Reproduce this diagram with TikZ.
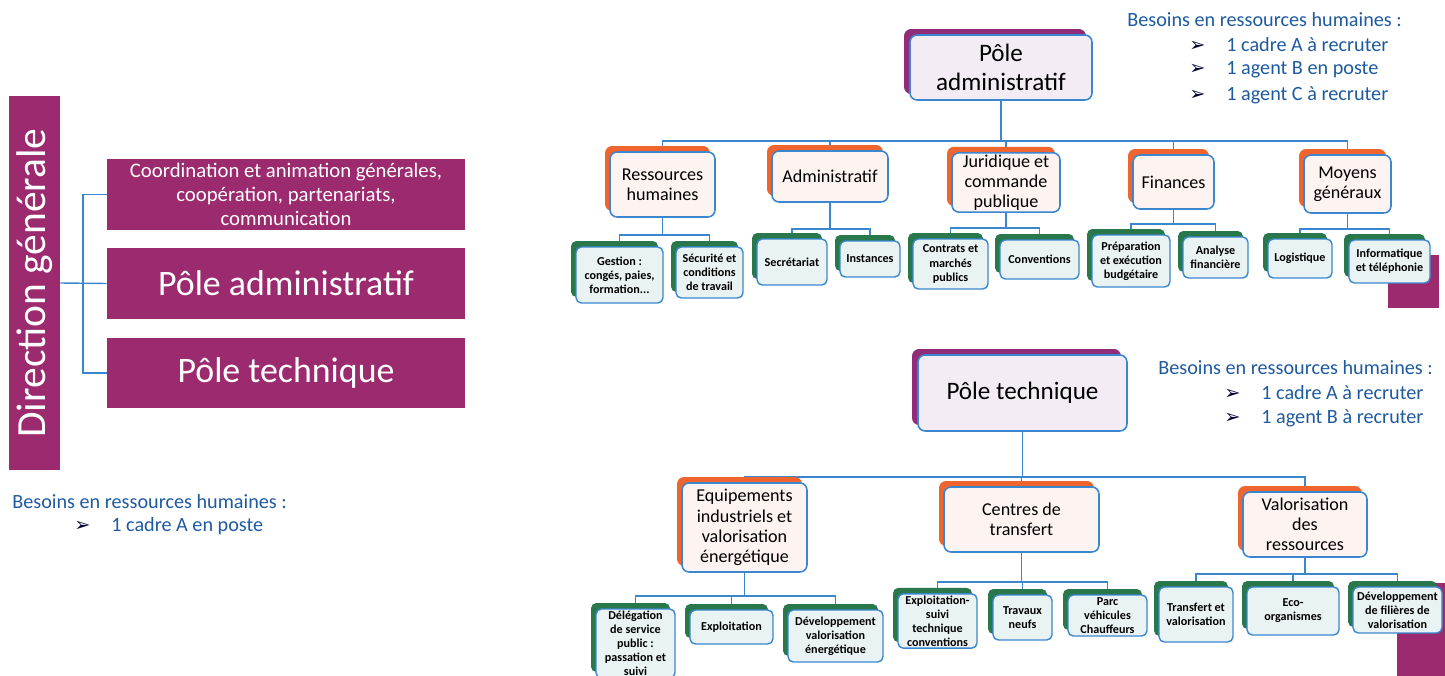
\documentclass[tikz,border=0pt]{standalone}
\usepackage{fontspec}
\setmainfont{Carlito}
\newfontfamily\symfont{DejaVu Sans}
\usepackage{tikz}
\usetikzlibrary{shadows, backgrounds, positioning}
\definecolor{Plum}{RGB}{155, 42, 110}
\definecolor{PlumShade}{RGB}{145, 45, 120}
\definecolor{LinkBlue}{RGB}{58, 135, 207}
\definecolor{Flame}{RGB}{240, 100, 45}
\definecolor{Forest}{RGB}{40, 120, 75}
\definecolor{PoleFill}{RGB}{243, 236, 245}
\definecolor{ServFill}{RGB}{253, 243, 240}
\definecolor{UnitFill}{RGB}{234, 243, 243}
\definecolor{NeedBlue}{RGB}{30, 90, 160}
\newcommand{\needarrow}{\makebox[0.74cm][l]{\color{black!80!blue}\symfont\fontsize{11}{11}\selectfont ➢}}

\begin{document}
\begin{tikzpicture}[x=0.02cm, y=-0.02cm,
            link/.style={draw=LinkBlue, line width=0.8pt},
            dgbox/.style={fill=Plum, text=white, inner sep=0pt, align=center},
            pole/.style={draw=LinkBlue, line width=0.9pt, fill=PoleFill, rounded corners=4pt, align=center,
                general shadow={fill=PlumShade, shadow xshift=-0.12cm, shadow yshift=0.12cm},
                font=\fontsize{14.3}{16.4}\selectfont},
            service/.style={draw=LinkBlue, line width=0.9pt, fill=ServFill, rounded corners=4pt, align=center, inner sep=1pt,
                general shadow={fill=Flame, shadow xshift=-0.1cm, shadow yshift=0.12cm},
                font=\fontsize{10.3}{11.5}\selectfont},
            unit/.style={draw=LinkBlue, line width=0.8pt, fill=UnitFill, rounded corners=3pt, align=center, inner sep=1pt,
                general shadow={fill=Forest, shadow xshift=-0.1cm, shadow yshift=0.12cm},
                font=\bfseries\fontsize{6.9}{8}\selectfont},
            need/.style={text=NeedBlue, anchor=west, inner sep=0pt, font=\fontsize{11.5}{13}\selectfont}
        ]
        \useasboundingbox (0,0) rectangle (1445,676);

        % Direction generale
        \node[dgbox, rotate=90, minimum width=7.48cm, minimum height=1.02cm, font=\fontsize{23.6}{28}\selectfont] (dg) at (34.5,283) {Direction générale};
        \node[dgbox, minimum width=7.16cm, minimum height=1.42cm, font=\fontsize{11.8}{13.6}\selectfont] (coord) at (286,194.5) {Coordination et animation générales,\\coopération, partenariats,\\communication};
        \node[dgbox, minimum width=7.16cm, minimum height=1.42cm, font=\fontsize{20.4}{24}\selectfont] (admL) at (286,283.5) {Pôle administratif};
        \node[dgbox, minimum width=7.16cm, minimum height=1.42cm, font=\fontsize{20.4}{24}\selectfont] (techL) at (286,373) {Pôle technique};
        \coordinate (dg-fork) at (83,283);
        \draw[link] (dg.south) -- (admL.west);
        \draw[link] (dg-fork) |- (coord.west);
        \draw[link] (dg-fork) |- (techL.west);

        \node[need] (dg-need) at (12,502) {Besoins en ressources humaines :};
        \node[need] (dg-need1) at (74,526) {\needarrow 1 cadre A en poste};

        % Pole administratif
        \node[pole, minimum width=3.64cm, minimum height=1.30cm] (padm) at (1001,67.5) {Pôle\\administratif};
        \coordinate (padm-bar) at (0,141);

        \node[service, minimum width=2.10cm, minimum height=1.30cm] (rh) at (662.5,184.5) {Ressources\\humaines};
        \node[service, minimum width=2.32cm, minimum height=1.02cm] (adm) at (830,176.5) {Administratif};
        \node[service, minimum width=2.16cm, minimum height=1.14cm] (jur) at (1006,182.5) {Juridique et\\commande\\publique};
        \node[service, minimum width=1.62cm, minimum height=1.08cm] (fin) at (1173.5,182) {Finances};
        \node[service, minimum width=1.74cm, minimum height=1.16cm] (moy) at (1347.5,184) {Moyens\\généraux};

        \node[unit, minimum width=1.74cm, minimum height=1.12cm] (gest) at (619.5,275) {Gestion :\\congés, paies,\\formation...};
        \node[unit, minimum width=1.34cm, minimum height=1.02cm] (secu) at (709.5,272.5) {Sécurité et\\conditions\\de travail};
        \node[unit, minimum width=1.40cm, minimum height=0.92cm] (secr) at (792,262) {Secrétariat};
        \node[unit, minimum width=1.20cm, minimum height=0.72cm] (inst) at (870,259) {Instances};
        \node[unit, minimum width=1.50cm, minimum height=1.00cm] (contr) at (950.5,264) {Contrats et\\marchés\\publics};
        \node[unit, minimum width=1.58cm, minimum height=0.78cm] (conv) at (1039.5,259.5) {Conventions};
        \node[unit, minimum width=1.56cm, minimum height=1.04cm] (prep) at (1131,261) {Préparation\\et exécution\\budgétaire};
        \node[unit, minimum width=1.30cm, minimum height=0.82cm] (anaf) at (1215.5,257.5) {Analyse\\financière};
        \node[unit, minimum width=1.28cm, minimum height=0.78cm] (logi) at (1300,258.5) {Logistique};
        \node[unit, minimum width=1.62cm, minimum height=0.86cm] (info) at (1389.5,261.5) {Informatique\\et téléphonie};

        \node[need] (adm-need) at (1127,20) {Besoins en ressources humaines :};
        \node[need] (adm-need1) at (1189,45) {\needarrow 1 cadre A à recruter};
        \node[need] (adm-need2) at (1189,70) {\needarrow 1 agent B en poste};
        \node[need] (adm-need3) at (1189,95) {\needarrow 1 agent C à recruter};

        % Pole technique
        \node[pole, minimum width=4.18cm, minimum height=1.52cm] (ptech) at (1022.5,393) {Pôle technique};
        \coordinate (ptech-bar) at (0,477);

        \node[service, minimum width=2.50cm, minimum height=1.78cm] (equi) at (744.5,527.5) {Equipements\\industriels et\\valorisation\\énergétique};
        \node[service, minimum width=3.10cm, minimum height=1.30cm] (cent) at (1021.5,519.5) {Centres de\\transfert};
        \node[service, minimum width=2.48cm, minimum height=1.30cm] (valo) at (1305,524.5) {Valorisation\\des\\ressources};

        \node[unit, minimum width=1.58cm, minimum height=1.38cm] (dsp) at (635.5,643.5) {Délégation\\de service\\public :\\passation et\\suivi};
        \node[unit, minimum width=1.66cm, minimum height=0.68cm] (expl) at (731.5,627) {Exploitation};
        \node[unit, minimum width=1.90cm, minimum height=1.04cm] (dvlp) at (835.5,636) {Développement\\valorisation\\énergétique};
        \node[unit, minimum width=1.58cm, minimum height=1.04cm] (suiv) at (937.5,621) {Exploitation-\\suivi\\technique\\conventions};
        \node[unit, minimum width=1.18cm, minimum height=0.90cm] (trav) at (1022.5,617.5) {Travaux\\neufs};
        \node[unit, minimum width=1.58cm, minimum height=0.82cm] (parc) at (1107.5,615.5) {Parc\\véhicules\\Chauffeurs};
        \node[unit, minimum width=1.48cm, minimum height=1.10cm] (trva) at (1196,614.5) {Transfert et\\valorisation};
        \node[unit, minimum width=1.84cm, minimum height=0.96cm] (ecoo) at (1293,611) {Eco-\\organismes};
        \node[unit, minimum width=1.78cm, minimum height=0.92cm] (dvfi) at (1397.5,610) {Développement\\de filières de\\valorisation};

        \node[need] (tech-need) at (1158,368) {Besoins en ressources humaines :};
        \node[need] (tech-need1) at (1224,393) {\needarrow 1 cadre A à recruter};
        \node[need] (tech-need2) at (1224,418) {\needarrow 1 agent B à recruter};

        % Links
        \begin{scope}[on background layer]
        \fill[Plum] (1388,255) rectangle (1439,308);
        \fill[Plum] (1397,583) rectangle (1445,676);
        \foreach \c in {rh,adm,jur,fin,moy}
            \draw[link] (padm.south) -- (padm.south |- padm-bar) -| (\c.north);
        \foreach \p/\c/\y in {rh/gest/235, rh/secu/235, adm/secr/229, adm/inst/229, jur/contr/228, jur/conv/228,
                fin/prep/224, fin/anaf/224, moy/logi/229, moy/info/229}
            \draw[link] (\p.south) -- ([yshift=-\y*0.02cm]\p.south |- 0,0) -| (\c.north);
        \foreach \c in {equi,cent,valo}
            \draw[link] (ptech.south) -- (ptech.south |- ptech-bar) -| (\c.north);
        \foreach \p/\c/\y in {equi/dsp/596, equi/expl/596, equi/dvlp/596, cent/suiv/582, cent/trav/582, cent/parc/582,
                valo/trva/574, valo/ecoo/574, valo/dvfi/574}
            \draw[link] (\p.south) -- ([yshift=-\y*0.02cm]\p.south |- 0,0) -| (\c.north);
        \end{scope}

        \end{tikzpicture}
\end{document}
